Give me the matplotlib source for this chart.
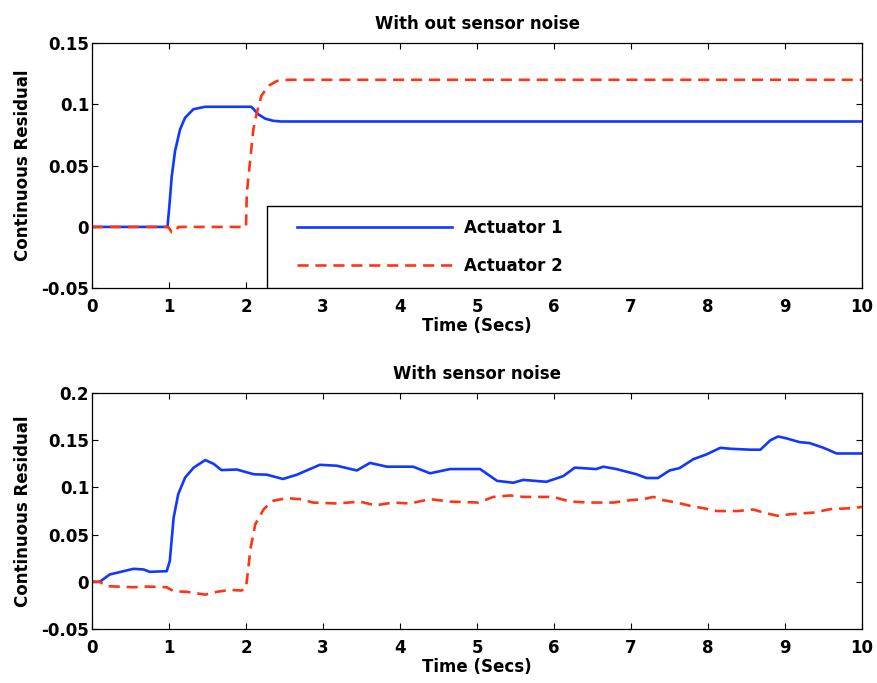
import numpy as np
import matplotlib
matplotlib.use("Agg")
import matplotlib.pyplot as plt
from matplotlib.patches import Rectangle

# residuals without sensor noise
t_clean_a1 = [0, 0.98, 1.004, 1.035, 1.078, 1.143, 1.208, 1.316, 1.468, 2.07, 2.16, 2.25, 2.35, 2.45, 10]
r_clean_a1 = [0, 0, 0.0166, 0.041, 0.0617, 0.0795, 0.089, 0.096, 0.098, 0.098, 0.0918, 0.0883,
              0.0866, 0.086, 0.086]

t_clean_a2 = [0, 0.99, 1.035, 1.078, 1.12, 2.0, 2.01, 2.05, 2.095, 2.14, 2.20, 2.29, 2.40, 2.55, 10]
r_clean_a2 = [0, 0, -0.0044, -0.0044, 0.0, 0.0, 0.0276, 0.052, 0.0795, 0.093, 0.107, 0.115,
              0.119, 0.120, 0.120]

# residuals with sensor noise
t_noisy_a1 = [0, 0.1, 0.23, 0.41, 0.54, 0.67, 0.75, 0.97, 1.01, 1.06, 1.12, 1.21, 1.32, 1.47,
              1.58, 1.68, 1.88, 2.10, 2.27, 2.48, 2.66, 2.96, 3.18, 3.44, 3.61, 3.83, 4.17,
              4.39, 4.65, 5.04, 5.26, 5.47, 5.60, 5.90, 6.12, 6.27, 6.55, 6.64, 6.81, 7.07,
              7.20, 7.35, 7.50, 7.63, 7.81, 7.98, 8.16, 8.29, 8.55, 8.68, 8.81, 8.91, 9.02,
              9.19, 9.32, 9.50, 9.67, 10.0]
r_noisy_a1 = [0, 0, 0.0078, 0.0113, 0.0138, 0.0131, 0.0106, 0.0113, 0.022, 0.068, 0.093, 0.1106,
              0.121, 0.129, 0.125, 0.1184, 0.119, 0.114, 0.1135, 0.109, 0.1135, 0.124, 0.123,
              0.118, 0.126, 0.122, 0.122, 0.115, 0.1195, 0.1195, 0.107, 0.105, 0.108, 0.106,
              0.112, 0.121, 0.1195, 0.122, 0.1195, 0.114, 0.110, 0.110, 0.118, 0.1205, 0.130,
              0.135, 0.142, 0.141, 0.140, 0.140, 0.150, 0.154, 0.152, 0.148, 0.147, 0.142,
              0.136, 0.136]

t_noisy_a2 = [0, 0.1, 0.19, 0.54, 0.71, 0.97, 1.06, 1.23, 1.47, 1.62, 1.79, 1.94, 2.0, 2.03,
              2.06, 2.12, 2.23, 2.35, 2.53, 2.70, 2.87, 3.18, 3.48, 3.68, 3.91, 4.13, 4.39,
              4.65, 5.02, 5.21, 5.43, 5.60, 5.99, 6.21, 6.47, 6.77, 6.99, 7.16, 7.29, 7.42,
              7.59, 7.77, 7.94, 8.12, 8.38, 8.59, 8.72, 8.90, 9.07, 9.37, 9.59, 9.85, 10.0]
r_noisy_a2 = [0, 0, -0.0046, -0.0057, -0.005, -0.0057, -0.0099, -0.0106, -0.0135, -0.0106,
              -0.0085, -0.0092, -0.0064, 0.0149, 0.036, 0.061, 0.077, 0.0858, 0.0887, 0.0876,
              0.084, 0.083, 0.085, 0.081, 0.084, 0.083, 0.0876, 0.085, 0.084, 0.090, 0.0915,
              0.090, 0.090, 0.085, 0.084, 0.084, 0.0865, 0.0876, 0.090, 0.0865, 0.084, 0.0805,
              0.078, 0.075, 0.075, 0.0766, 0.0734, 0.070, 0.0716, 0.0734, 0.077, 0.078, 0.0794]

x_ticks = list(range(0, 11))
top_yticks = [-0.05, 0, 0.05, 0.1, 0.15]
top_ylabels = ['-0.05', '0', '0.05', '0.1', '0.15']
bot_yticks = [-0.05, 0, 0.05, 0.1, 0.15, 0.2]
bot_ylabels = ['-0.05', '0', '0.05', '0.1', '0.15', '0.2']

BLUE = '#1038ff'
RED = '#ff3414'
LW = 1.9
DASH = (4.2, 2.6)

plt.rcParams['font.family'] = ['DejaVu Sans']
plt.rcParams['font.weight'] = 'bold'
plt.rcParams['font.size'] = 12

fig = plt.figure(figsize=(8.78, 6.83), dpi=100)
ax1 = fig.add_axes([0.1048, 0.578, 0.877, 0.359])
ax2 = fig.add_axes([0.1048, 0.079, 0.877, 0.3455])


def style(ax, yticks, ylabels, ylim, title):
    ax.set_xlim(0, 10)
    ax.set_ylim(*ylim)
    ax.set_xticks(x_ticks)
    ax.set_xticklabels([str(v) for v in x_ticks])
    ax.set_yticks(yticks)
    ax.set_yticklabels(ylabels)
    ax.tick_params(direction='in', length=4, width=0.8, top=True, right=True,
                   labelsize=12)
    ax.tick_params(axis='x', pad=7)
    ax.tick_params(axis='y', pad=2)
    for sp in ax.spines.values():
        sp.set_linewidth(0.9)
    ax.set_xlabel('Time (Secs)', fontsize=12, fontweight='bold', labelpad=1)
    ax.set_ylabel('Continuous Residual', fontsize=12, fontweight='bold', labelpad=7)
    ax.set_title(title, fontsize=12, fontweight='bold', pad=10)


l1, = ax1.plot(t_clean_a1, r_clean_a1, color=BLUE, lw=LW, label='Actuator 1')
l2, = ax1.plot(t_clean_a2, r_clean_a2, color=RED, lw=LW, dashes=DASH, label='Actuator 2')
style(ax1, top_yticks, top_ylabels, (-0.05, 0.15), 'With out sensor noise')

# legend box spanning to the right edge of the axes
ax1.add_patch(Rectangle((0.227, 0.0), 0.773, 0.336, transform=ax1.transAxes,
                        facecolor='white', edgecolor='black', lw=1.0, zorder=4))
leg = ax1.legend(handles=[l1, l2], loc='center left', bbox_to_anchor=(0.266, 0.17),
                 frameon=False, borderpad=0, borderaxespad=0, handlelength=9.3,
                 handletextpad=0.75, labelspacing=1.2, fontsize=12)
leg.set_zorder(5)

ax2.plot(t_noisy_a1, r_noisy_a1, color=BLUE, lw=LW)
ax2.plot(t_noisy_a2, r_noisy_a2, color=RED, lw=LW, dashes=DASH)
style(ax2, bot_yticks, bot_ylabels, (-0.05, 0.2), 'With sensor noise')

fig.savefig('out.png', dpi=100)
